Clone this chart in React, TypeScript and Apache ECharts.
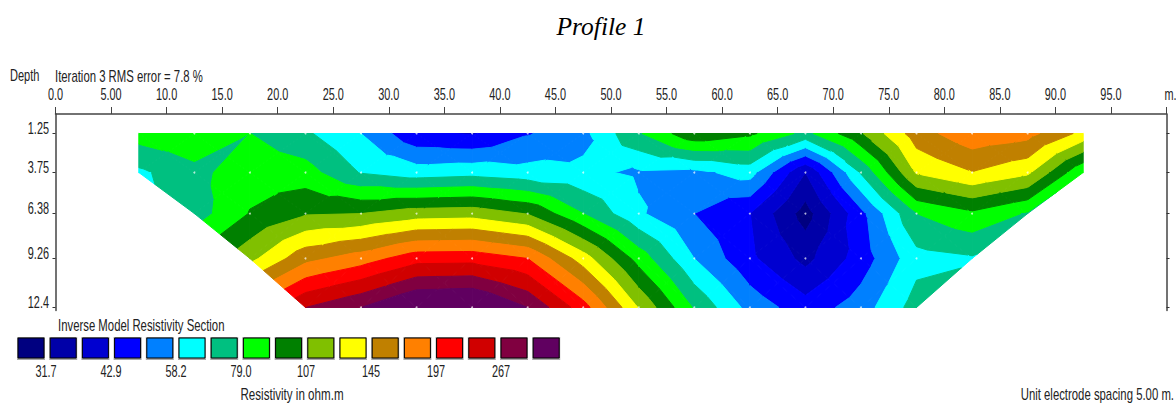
import React, { useEffect, useRef } from "react";
import * as echarts from "echarts";

const xTickLabels = ["0.0","5.00","10.0","15.0","20.0","25.0","30.0","35.0","40.0","45.0","50.0","55.0","60.0","65.0","70.0","75.0","80.0","85.0","90.0","95.0","m."];
const depthTicks = [1.25, 3.75, 6.38, 9.26, 12.4];
const rowStarts = [7.5, 7.5, 12.5, 17.5, 22.5];

const row1 = [84.7,89.1,79.1,69.5,58.2,44.3,42.3,49.4,55.9,77.7,103,94.7,75.4,105.4,157.6,187.9,178.4,138.6];
const row2 = [65.7,75.4,86.4,84.2,67.1,62.5,64.2,61.4,60.0,56.9,56.0,61.9,36.9,68.8,126.5,144,128.4,80.1];
const row3 = [73.2,92.6,105.4,107,115.5,117.2,106.1,79,59.5,50,43,29.6,47.8,79,89.1,77.7];
const row4 = [119,161.3,182.2,215.4,217,197,134.4,86.4,58.2,44.3,35.3,46,64.2,66.7];
const row5 = [267,310,381,390,310,210.5,123.6,77.7,55.2,45.7,54,72.6];
const rows = [row1, row2, row3, row4, row5];

const thresholds = [31.7,36.9,42.9,50,58.2,67.8,79,91.9,107,124.6,145,169,197,229,267,310];
const bandColors = ["#000080","#0000a8","#0000d0","#0000ff","#0080ff","#00ffff","#00c080","#00ff00","#008000","#80c000","#ffff00","#c08000","#ff8000","#ff0000","#d00000","#800040","#600060"];
const legendLabels = ["31.7","42.9","58.2","79.0","107","145","197","267"];

const FONT = '"Liberation Sans", Arial, sans-serif';

type Node = [number, number, number];

function buildTriangles(): number[][] {
  const out: number[][] = [];
  const node = (r: number, c: number): Node => [rowStarts[r] + c * 5, depthTicks[r], Math.log(rows[r][c])];
  const push = (a: Node, b: Node, c: Node) => out.push([...a, ...b, ...c]);
  for (let r = 0; r < rows.length - 1; r++) {
    const shift = Math.round((rowStarts[r + 1] - rowStarts[r]) / 5);
    const lowerLen = rows[r + 1].length;
    for (let c = 0; c < lowerLen - 1; c++) {
      const a = node(r, c + shift), b = node(r, c + shift + 1);
      const d = node(r + 1, c), e = node(r + 1, c + 1);
      const diag1 = (a[2] + e[2]) / 2, diag2 = (b[2] + d[2]) / 2;
      const saddle = Math.min(a[2], e[2]) > Math.max(b[2], d[2]) || Math.min(b[2], d[2]) > Math.max(a[2], e[2]);
      const shallowSaddle = saddle && Math.abs(diag1 - diag2) < 0.15;
      const m: Node = [
        (a[0] + b[0] + d[0] + e[0]) / 4,
        (a[1] + b[1] + d[1] + e[1]) / 4,
        shallowSaddle ? Math.min(diag1, diag2) : (diag1 + diag2) / 2,
      ];
      push(a, b, m); push(b, e, m); push(e, d, m); push(d, a, m);
    }
    if (shift > 0) {
      push(node(r, 0), node(r, 1), node(r + 1, 0));
      const n = rows[r].length;
      push(node(r, n - 1), node(r, n - 2), node(r + 1, lowerLen - 1));
    }
  }
  return out;
}

function clipAbove(poly: Node[], lim: number, sign: number): Node[] {
  const res: Node[] = [];
  for (let i = 0; i < poly.length; i++) {
    const p = poly[i], q = poly[(i + 1) % poly.length];
    const pi = sign * (p[2] - lim) >= 0, qi = sign * (q[2] - lim) >= 0;
    if (pi) res.push(p);
    if (pi !== qi) {
      const t = (lim - p[2]) / (q[2] - p[2]);
      res.push([p[0] + t * (q[0] - p[0]), p[1] + t * (q[1] - p[1]), lim]);
    }
  }
  return res;
}

const triangles = buildTriangles();
const nodeDots: number[][] = [];
rows.forEach((row, r) => {
  row.forEach((_, c) => {
    if (c > 0 && c < row.length - 1) nodeDots.push([rowStarts[r] + c * 5, depthTicks[r]]);
  });
});

const renderTriangle = (_params: any, api: any) => {
  const tri: Node[] = [
    [api.value(0), api.value(1), api.value(2)],
    [api.value(3), api.value(4), api.value(5)],
    [api.value(6), api.value(7), api.value(8)],
  ];
  const children: any[] = [];
  for (let k = 0; k < bandColors.length; k++) {
    let poly = tri;
    if (k > 0) poly = clipAbove(poly, Math.log(thresholds[k - 1]), 1);
    if (poly.length && k < thresholds.length) poly = clipAbove(poly, Math.log(thresholds[k]), -1);
    if (poly.length < 3) continue;
    children.push({
      type: "polygon",
      shape: { points: poly.map((p) => api.coord([p[0], p[1]])) },
      style: { fill: bandColors[k], stroke: bandColors[k], lineWidth: 1 },
    });
  }
  return { type: "group", children };
};

// The reference uses a condensed face that is not installed: the texts are squeezed horizontally.
const text = (x: number, y: number, t: string, sx: number, extra: any = {}) => ({
  type: "text",
  x,
  y,
  scaleX: sx,
  silent: true,
  style: { text: t, fill: "#222", font: `16px ${FONT}`, textAlign: "left", textVerticalAlign: "middle", ...extra },
});

export default function App() {
  const ref = useRef<HTMLDivElement>(null);
  useEffect(() => {
    const chart = echarts.init(ref.current!, undefined, { renderer: "svg" });
    chart.setOption({
      animation: false,
      backgroundColor: "#fff",
      tooltip: { show: false },
      grid: { left: 55.5, top: 114, width: 1111, height: 196.6 },
      xAxis: {
        type: "value",
        position: "top",
        min: 0,
        max: 100,
        interval: 5,
        splitLine: { show: false },
        axisLine: { show: true, lineStyle: { color: "#444", width: 1.5 } },
        axisTick: { show: true, length: 7, lineStyle: { color: "#444", width: 1 } },
        axisLabel: { show: false },
      },
      yAxis: [
        {
          type: "value",
          inverse: true,
          min: 0,
          max: 12.6,
          position: "left",
          splitLine: { show: false },
          axisLine: { show: true, onZero: false, lineStyle: { color: "#444", width: 1.5 } },
          axisTick: { show: true, length: 3, customValues: depthTicks, lineStyle: { color: "#333" } },
          axisLabel: { show: false },
        },
        {
          type: "value",
          inverse: true,
          min: 0,
          max: 12.6,
          position: "right",
          splitLine: { show: false },
          axisLine: { show: true, onZero: false, lineStyle: { color: "#444", width: 1.5 } },
          axisTick: { show: true, length: 3, customValues: depthTicks, lineStyle: { color: "#333" } },
          axisLabel: { show: false },
        },
      ],
      series: [
        {
          type: "custom",
          coordinateSystem: "cartesian2d",
          xAxisIndex: 0,
          yAxisIndex: 0,
          silent: true,
          clip: false,
          renderItem: renderTriangle,
          encode: { x: [0, 3, 6], y: [1, 4, 7] },
          data: triangles,
        },
        {
          type: "scatter",
          xAxisIndex: 0,
          yAxisIndex: 0,
          silent: true,
          symbolSize: 2,
          itemStyle: { color: "#ffffff", opacity: 0.7 },
          z: 5,
          data: nodeDots,
        },
      ],
    });

    const legend: any[] = [];
    bandColors.forEach((color, i) => {
      const x = 18 + i * 32.2;
      legend.push({ type: "rect", silent: true, shape: { x: x - 1, y: 337, width: 28, height: 23 }, style: { fill: "#a8a8a8" } });
      legend.push({ type: "rect", silent: true, shape: { x, y: 338, width: 26, height: 20 }, style: { fill: color, stroke: "#000", lineWidth: 1 } });
    });
    legendLabels.forEach((l, i) => {
      legend.push(text(46 + i * 65, 372, l, 0.68, { textAlign: "center" }));
    });
    const xLabels = xTickLabels.map((l, i) => {
      const px = chart.convertToPixel({ xAxisIndex: 0 }, i * 5) as number;
      const isUnit = i === xTickLabels.length - 1;
      return text(px + (isUnit ? 4 : 0), 95, l, 0.68, { textAlign: "center" });
    });
    const yLabels = depthTicks.map((d) => {
      const py = chart.convertToPixel({ yAxisIndex: 0 }, d) as number;
      return text(49, py - 5, String(d), 0.68, { textAlign: "right" });
    });
    chart.setOption({
      graphic: {
        elements: [
          text(601, 26, "Profile 1", 1, {
            font: 'italic 25.5px "Liberation Serif", "DejaVu Serif", serif',
            fill: "#000",
            textAlign: "center",
          }),
          text(10, 76, "Depth", 0.69),
          text(55, 76, "Iteration 3 RMS error = 7.8 %", 0.71),
          text(58, 325, "Inverse Model Resistivity Section", 0.71),
          text(292, 394, "Resistivity in ohm.m", 0.725, { textAlign: "center" }),
          text(1174, 394, "Unit electrode spacing 5.00 m.", 0.71, { textAlign: "right" }),
          ...xLabels,
          ...yLabels,
          ...legend,
        ],
      },
    });
    return () => chart.dispose();
  }, []);
  return <div ref={ref} style={{ position: "absolute", left: 0, top: 0, width: 1176, height: 403 }} />;
}
